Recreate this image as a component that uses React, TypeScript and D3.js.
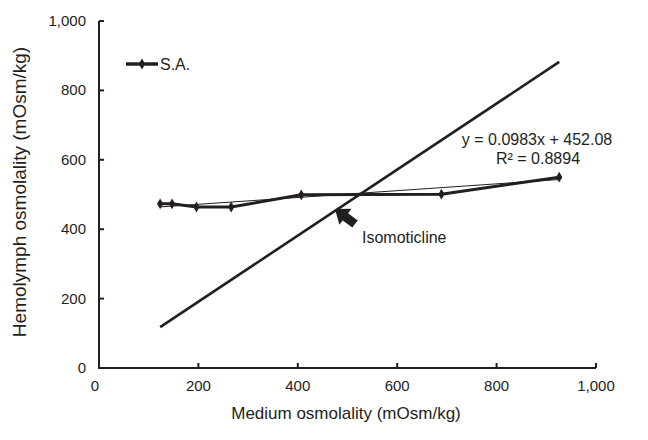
import { useEffect, useRef } from 'react';
import * as d3 from 'd3';

// S.A. series
const mediumOsm = [123, 147, 196, 266, 407, 689, 926];
const hemolymphOsm = [473, 473, 464, 464, 499, 501, 550];

// isomoticline endpoints as drawn
const isoX = [123, 926];
const isoY = [118, 882];

const trendSlope = 0.0983;
const trendIntercept = 452.08;

const xTicks = [0, 200, 400, 600, 800, 1000];
const yTicks = [0, 200, 400, 600, 800, 1000];

export default function App() {
  const svgRef = useRef<SVGSVGElement>(null);

  useEffect(() => {
    document.body.style.margin = '0';
    if (!svgRef.current) return;
    const width = 648;
    const height = 440;
    const ink = '#231f20';
    const font = '"Liberation Sans", Arial, sans-serif';

    const svg = d3.select(svgRef.current)
      .attr('width', width)
      .attr('height', height)
      .style('display', 'block')
      .style('font-family', font);
    svg.selectAll('*').remove();

    const x = d3.scaleLinear().domain([0, 1000]).range([99, 596]);
    const y = d3.scaleLinear().domain([0, 1000]).range([368, 21]);

    // axes
    svg.append('line')
      .attr('x1', x(0)).attr('x2', x(0)).attr('y1', y(0) + 1).attr('y2', y(1000))
      .attr('stroke', ink).attr('stroke-width', 2);
    svg.append('line')
      .attr('x1', x(0)).attr('x2', x(1000)).attr('y1', y(0)).attr('y2', y(0))
      .attr('stroke', ink).attr('stroke-width', 2);

    svg.selectAll('.ytick')
      .data(yTicks)
      .join('line')
      .attr('x1', x(0)).attr('x2', x(0) + 5)
      .attr('y1', d => y(d)).attr('y2', d => y(d))
      .attr('stroke', ink).attr('stroke-width', 2);
    svg.selectAll('.ylab')
      .data(yTicks)
      .join('text')
      .attr('x', 86)
      .attr('y', d => y(d) + 5)
      .attr('text-anchor', 'end')
      .style('font-size', '15px')
      .style('fill', ink)
      .text(d => d3.format(',')(d));

    svg.selectAll('.xtick')
      .data(xTicks)
      .join('line')
      .attr('x1', d => x(d)).attr('x2', d => x(d))
      .attr('y1', y(0)).attr('y2', y(0) - 5)
      .attr('stroke', ink).attr('stroke-width', 2);
    svg.selectAll('.xlab')
      .data(xTicks)
      .join('text')
      .attr('x', d => x(d) + (d === 0 ? -4 : 0))
      .attr('y', 391)
      .attr('text-anchor', 'middle')
      .style('font-size', '15px')
      .style('fill', ink)
      .text(d => d3.format(',')(d));

    svg.append('text')
      .attr('x', 346).attr('y', 419)
      .attr('text-anchor', 'middle')
      .style('font-size', '17px')
      .style('fill', ink)
      .text('Medium osmolality (mOsm/kg)');
    svg.append('text')
      .attr('transform', `translate(26,192) rotate(-90)`)
      .attr('text-anchor', 'middle')
      .style('font-size', '19px')
      .style('fill', ink)
      .text('Hemolymph osmolality (mOsm/kg)');

    // isomoticline
    const pts = d3.zip(isoX, isoY) as [number, number][];
    svg.append('path')
      .attr('d', d3.line<[number, number]>().x(d => x(d[0])).y(d => y(d[1]))(pts))
      .attr('fill', 'none').attr('stroke', ink).attr('stroke-width', 2.6);

    // linear trendline
    const tx = d3.extent(mediumOsm) as [number, number];
    svg.append('line')
      .attr('x1', x(tx[0])).attr('y1', y(trendSlope * tx[0] + trendIntercept))
      .attr('x2', x(tx[1])).attr('y2', y(trendSlope * tx[1] + trendIntercept))
      .attr('stroke', ink).attr('stroke-width', 1);

    // series
    const series = d3.zip(mediumOsm, hemolymphOsm) as [number, number][];
    svg.append('path')
      .attr('d', d3.line<[number, number]>().x(d => x(d[0])).y(d => y(d[1]))(series))
      .attr('fill', 'none').attr('stroke', ink).attr('stroke-width', 3);
    const diamond = d3.symbol().type(d3.symbolDiamond).size(34);
    svg.selectAll('.pt')
      .data(series)
      .join('path')
      .attr('transform', d => `translate(${x(d[0])},${y(d[1])})`)
      .attr('d', diamond())
      .attr('fill', ink);

    // legend
    svg.append('line')
      .attr('x1', 126).attr('x2', 158).attr('y1', 64).attr('y2', 64)
      .attr('stroke', ink).attr('stroke-width', 3.5);
    svg.append('path')
      .attr('transform', 'translate(142,64)')
      .attr('d', diamond())
      .attr('fill', ink);
    svg.append('text')
      .attr('x', 160).attr('y', 70)
      .style('font-size', '16px')
      .style('fill', ink)
      .text('S.A.');

    // equation
    svg.append('text')
      .attr('x', 537).attr('y', 145)
      .attr('text-anchor', 'middle')
      .style('font-size', '16px')
      .style('fill', ink)
      .text(`y = ${trendSlope}x + ${trendIntercept}`);
    svg.append('text')
      .attr('x', 538).attr('y', 164)
      .attr('text-anchor', 'middle')
      .style('font-size', '16px')
      .style('fill', ink)
      .text('R² = 0.8894');

    // isomoticline label with block arrow
    svg.append('text')
      .attr('x', 362).attr('y', 243)
      .style('font-size', '16px')
      .style('fill', ink)
      .text('Isomoticline');
    const tip: [number, number] = [335, 209];
    const ang = Math.atan2(224 - 209, 355 - 335);
    const rot = (ang * 180) / Math.PI;
    svg.append('path')
      .attr('transform', `translate(${tip[0]},${tip[1]}) rotate(${rot})`)
      .attr('d', 'M0,0 L13,-10 L13,-4.5 L25,-4.5 L25,4.5 L13,4.5 L13,10 Z')
      .attr('fill', ink);
  }, []);

  return <svg ref={svgRef}></svg>;
}
